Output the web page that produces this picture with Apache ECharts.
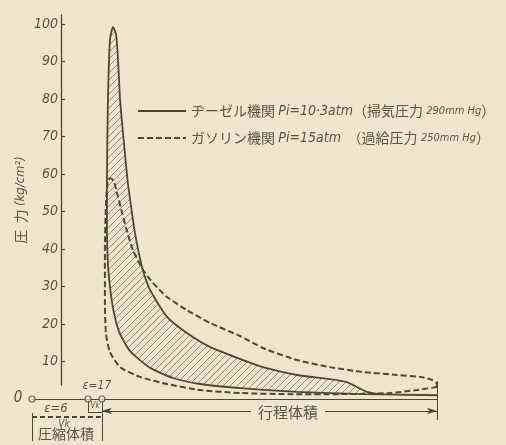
<!DOCTYPE html>
<html><head><meta charset="utf-8">
<script src="https://cdn.jsdelivr.net/npm/echarts@6/dist/echarts.min.js"></script>
<style>html,body{margin:0;padding:0;background:#efe7cb;}#c{width:506px;height:445px;}</style>
</head><body><div id="c"></div>
<script>
// ---- data (volume: 0..120, compression volume origin at 0, TDC≈21, BDC=120; pressure kg/cm²)
const yTicks = [10, 20, 30, 40, 50, 60, 70, 80, 90, 100];
const dieselName = 'ヂーゼル機関';
const gasName = 'ガソリン機関';
// Diesel loop: compression (BDC->TDC), combustion spike, expansion (peak->BDC)
const dieselV = [120.0, 98.1, 78.5, 61.6, 49.8, 41.8, 35.0, 29.0, 26.1, 24.6, 23.4, 22.5, 22.2, 22.2, 22.5, 23.1,
  24.0,
  24.9, 25.5, 26.1, 27.3, 28.4, 29.3, 30.5, 32.6, 35.0, 40.0, 45.9, 52.7, 61.6, 68.4, 78.5, 88.3, 93.3, 96.3, 99.3, 103.1, 120.0];
const dieselP = [1.0, 1.3, 1.9, 2.9, 4.0, 5.6, 8.3, 12.8, 17.3, 21.6, 27.7, 35.7, 45.1, 57.6, 79.7, 95.7,
  99.2,
  97.3, 90.4, 79.7, 67.7, 57.6, 51.7, 44.3, 35.2, 29.1, 21.9, 17.6, 13.9, 10.7, 8.5, 6.4, 5.3, 4.5, 3.2, 1.9, 1.3, 1.0];
// Gasoline loop: compression (BDC->TDC), peak, expansion (peak->BDC)
const gasV = [120.0, 114.1, 106.1, 91.3, 76.4, 61.6, 49.8, 40.0, 32.0, 26.1, 23.1, 21.9, 21.6, 21.6, 21.9, 22.5,
  23.4,
  24.3, 25.5, 26.7, 27.9, 29.9, 32.9, 35.9, 40.0, 45.9, 52.7, 61.6, 68.4, 78.5, 88.3, 98.1, 108.1, 115.0, 118.5, 120.0, 120.0];
const gasP = [3.2, 2.4, 1.6, 1.3, 1.3, 1.6, 2.4, 4.0, 5.9, 8.5, 12.5, 17.6, 26.4, 39.7, 51.7, 58.4,
  58.9,
  57.9, 53.9, 49.6, 45.6, 39.7, 34.4, 30.9, 27.2, 23.7, 20.3, 16.8, 13.6, 10.4, 8.5, 7.2, 6.4, 5.9, 5.1, 4.0, 3.2];
// markers on the zero line: origin, ε=17 compression-volume start, TDC
const markerV = [0, 16.6, 20.7];
// annotation levels (pressure units below zero line)
const tdcV = 20.7, bdcV = 120;
const strokeArrowP = -3.2;
const eps6LineP = -4.8;
const dimBottomP = -11.2;
const vkBoxP = -3.4;

const line = '#4d4834';
const txt = '#5b5543';
const bg = '#efe7cb';
const jp = '"Noto Sans CJK JP", sans-serif';
const it = '"DejaVu Sans Condensed", "DejaVu Sans", sans-serif';

function hatchCanvas() {
  const s = 7, c = document.createElement('canvas');
  c.width = s; c.height = s;
  const g = c.getContext('2d');
  g.strokeStyle = 'rgba(77,72,52,0.7)'; g.lineWidth = 0.8;
  g.beginPath();
  g.moveTo(0, s); g.lineTo(s, 0);
  g.moveTo(-1, 1); g.lineTo(1, -1);
  g.moveTo(s - 1, s + 1); g.lineTo(s + 1, s - 1);
  g.stroke();
  return c;
}
const hatch = hatchCanvas();

const chart = echarts.init(document.getElementById('c'), null, {renderer: 'canvas'});
const legendRich = {
  a: {fontFamily: jp, fontSize: 14, color: txt},
  i: {fontFamily: it, fontStyle: 'italic', fontSize: 14, color: txt},
  s: {fontFamily: it, fontStyle: 'italic', fontSize: 11, color: txt}
};
chart.setOption({
  backgroundColor: bg,
  animation: false,
  grid: [
    {left: 32, right: 69, top: 24, bottom: 1},
    {left: 61, width: 1, top: 15, bottom: 60}
  ],
  xAxis: [
    {gridIndex: 0, type: 'value', min: 0, max: 120,
      axisLine: {show: true, onZero: true, lineStyle: {color: line, width: 1.2}},
      axisTick: {show: false}, axisLabel: {show: false}, splitLine: {show: false}},
    {gridIndex: 1, type: 'value', show: false, min: 0, max: 1}
  ],
  yAxis: [
    {gridIndex: 0, type: 'value', min: -12, max: 100, show: false, splitLine: {show: false}},
    {gridIndex: 1, type: 'value', min: 3.7, max: 102.4, position: 'left',
      axisLine: {show: true, lineStyle: {color: line, width: 1.3}},
      axisTick: {show: true, inside: true, length: 4, customValues: yTicks, lineStyle: {color: line, width: 1.2}},
      axisLabel: {customValues: yTicks, margin: 3, fontFamily: it, fontStyle: 'italic', fontSize: 14, color: txt},
      splitLine: {show: false},
      name: '{a|圧  力} {i|(kg/cm²)}',
      nameLocation: 'middle', nameRotate: 90, nameGap: 33, nameMoveOverlap: false,
      nameTextStyle: {rich: {
        a: {fontFamily: jp, fontSize: 14, color: txt},
        i: {fontFamily: it, fontStyle: 'italic', fontSize: 13, color: txt}
      }}}
  ],
  legend: {
    data: [dieselName, gasName], orient: 'vertical', left: 137, top: 104, padding: 0,
    itemWidth: 48, itemHeight: 14, itemGap: 13, selectedMode: false,
    itemStyle: {opacity: 0, borderWidth: 0},
    textStyle: {rich: legendRich},
    formatter: function (n) {
      if (n === dieselName) return '{a|' + n + '} {i|Pi=10·3atm}{a|（掃気圧力} {s|290mm Hg}{a|）}';
      return '{a|' + n + '} {i|Pi=15atm}  {a|（過給圧力} {s|250mm Hg}{a|）}';
    }
  },
  graphic: [
    {type: 'text', x: 18, y: 398, style: {text: '0', font: 'italic 15px ' + it, fill: txt, align: 'center', verticalAlign: 'middle'}},
    {type: 'text', x: 97, y: 386, style: {text: 'ε=17', font: 'italic 12px ' + it, fill: txt, align: 'center', verticalAlign: 'middle'}},
    {type: 'text', x: 95, y: 406, style: {text: 'Vk', font: 'italic 8px ' + it, fill: txt, align: 'center', verticalAlign: 'middle'}},
    {type: 'text', x: 56, y: 409, style: {text: 'ε=6', font: 'italic 13px ' + it, fill: txt, align: 'center', verticalAlign: 'middle'}},
    {type: 'text', x: 64, y: 424, style: {text: 'Vk', font: 'italic 10px ' + it, fill: txt, align: 'center', verticalAlign: 'middle'}},
    {type: 'text', x: 66, y: 434, style: {text: '圧縮体積', font: '14px ' + jp, fill: txt, align: 'center', verticalAlign: 'middle'}},
    {type: 'text', x: 288, y: 412, z: 100, style: {text: '行程体積', font: '15px ' + jp, fill: txt, align: 'center', verticalAlign: 'middle', backgroundColor: bg, padding: [0, 7]}}
  ],
  series: [
    {type: 'custom', name: 'hatch', xAxisIndex: 0, yAxisIndex: 0, silent: true, z: 1,
      data: [[60, 10]],
      renderItem: function (params, api) {
        const pts = dieselV.map(function (v, i) { return api.coord([v, dieselP[i]]); });
        return {type: 'polygon', shape: {points: pts}, style: {fill: {image: hatch, repeat: 'repeat'}, stroke: null}};
      }},
    {type: 'line', name: dieselName, xAxisIndex: 0, yAxisIndex: 0, z: 3,
      data: dieselV.map(function (v, i) { return [v, dieselP[i]]; }),
      symbol: 'none', smooth: 0.2, lineStyle: {color: line, width: 1.8}, itemStyle: {color: line}},
    {type: 'line', name: gasName, xAxisIndex: 0, yAxisIndex: 0, z: 4,
      data: gasV.map(function (v, i) { return [v, gasP[i]]; }),
      symbol: 'none', smooth: 0.2, lineStyle: {color: line, width: 2, type: [6, 3]}, itemStyle: {color: line}},
    {type: 'line', name: 'annot', xAxisIndex: 0, yAxisIndex: 0, z: 2, data: [], silent: true,
      markLine: {silent: true, symbol: 'none', label: {show: false}, animation: false,
        lineStyle: {color: line, width: 1, type: 'solid'},
        emphasis: {disabled: true},
        data: [
          [{coord: [tdcV, strokeArrowP], symbol: 'arrow', symbolSize: [5, 10]}, {coord: [bdcV, strokeArrowP], symbol: 'arrow', symbolSize: [5, 10]}],
          [{coord: [0, eps6LineP], lineStyle: {type: [5, 3], width: 2, color: line}}, {coord: [tdcV, eps6LineP]}],
          [{coord: [0, strokeArrowP - 0.5]}, {coord: [0, dimBottomP]}],
          [{coord: [tdcV, 0]}, {coord: [tdcV, dimBottomP]}],
          [{coord: [markerV[1], 0]}, {coord: [markerV[1], vkBoxP]}],
          [{coord: [markerV[1], vkBoxP]}, {coord: [tdcV, vkBoxP]}],
          [{coord: [bdcV, 4.8]}, {coord: [bdcV, -5.6]}]
        ]}},
    {type: 'scatter', name: 'markers', xAxisIndex: 0, yAxisIndex: 0, z: 5, silent: true,
      data: markerV.map(function (v) { return [v, 0]; }),
      symbol: 'circle', symbolSize: 6,
      itemStyle: {color: bg, borderColor: line, borderWidth: 1.2}}
  ]
});
</script>
</body></html>
